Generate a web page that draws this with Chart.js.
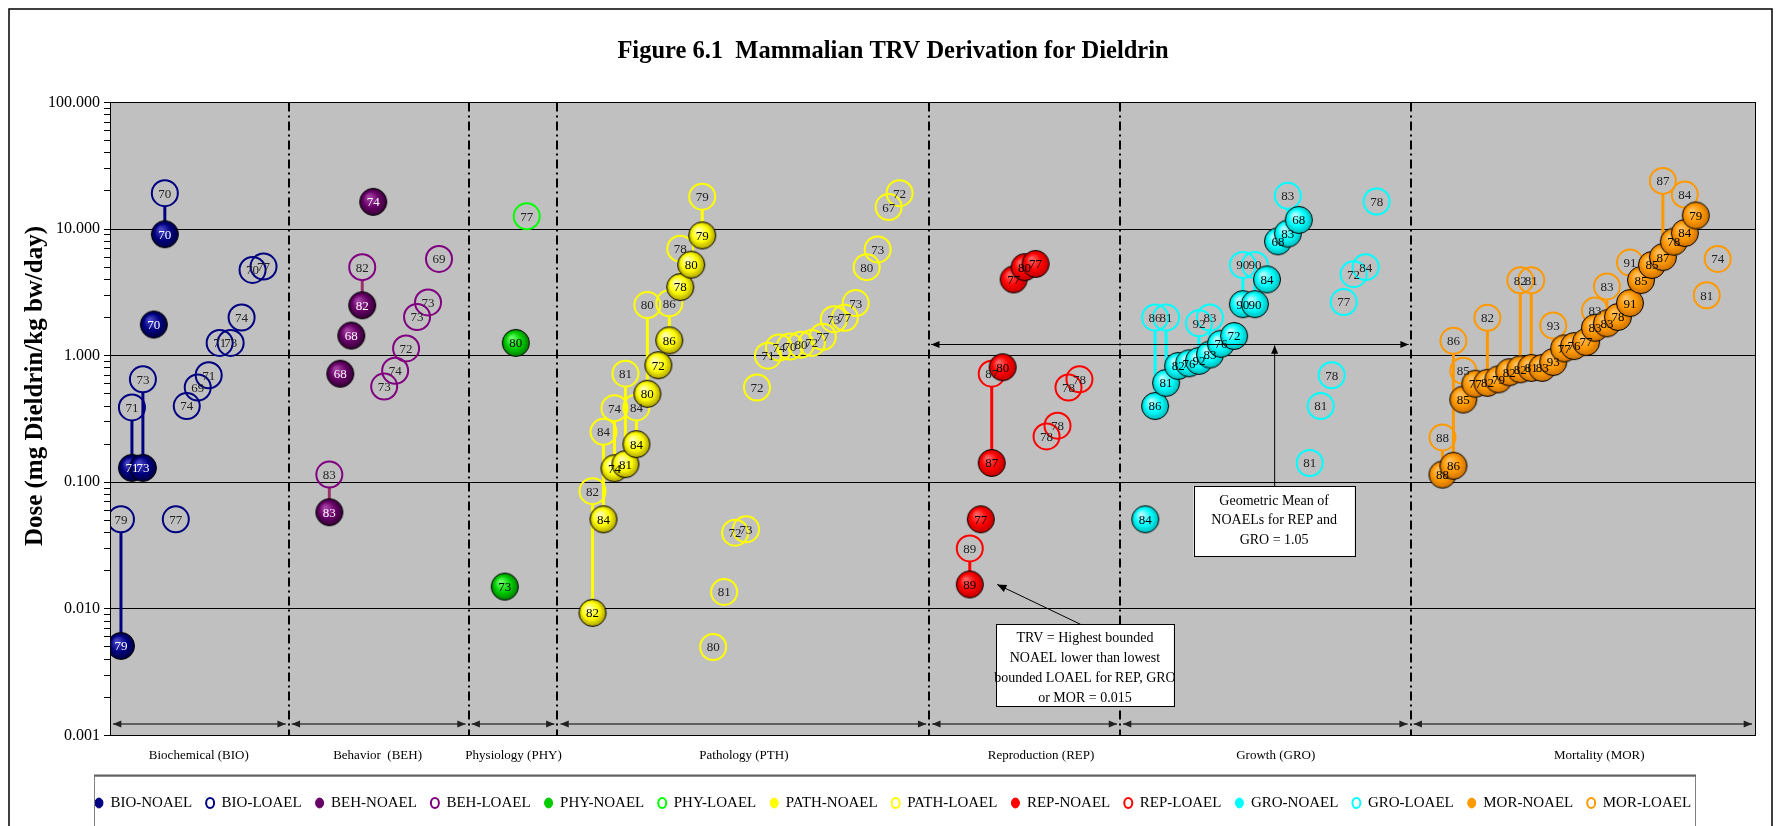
<!DOCTYPE html>
<html>
<head>
<meta charset="utf-8">
<script src="https://cdn.jsdelivr.net/npm/chart.js@4.4.0/dist/chart.umd.min.js"></script>
<style>
  html, body { margin: 0; padding: 0; background: #fff; }
  canvas { display: block; }
</style>
</head>
<body>
<canvas id="chart" width="1781" height="826"></canvas>
<script>
// points are [x position, dose mg/kg bw/day, study label]
const BIO_NOAEL = [[1, 0.0051, '79'], [2, 0.13, '71'], [3, 0.13, '73'], [4, 1.76, '70'], [5, 9.1, '70']];
const BIO_LOAEL = [[1, 0.051, '79'], [2, 0.39, '71'], [3, 0.65, '73'], [5, 19.2, '70'], [6, 0.051, '77'],
  [7, 0.40, '74'], [8, 0.56, '69'], [9, 0.70, '71'], [10, 1.26, '71'], [11, 1.26, '73'], [12, 2.0, '74'],
  [13, 4.75, '70'], [14, 5.05, '77']];

const BEH_NOAEL = [[20, 0.058, '83'], [21, 0.72, '68'], [22, 1.44, '68'], [23, 2.5, '82'], [24, 16.4, '74']];
const BEH_LOAEL = [[20, 0.115, '83'], [23, 5.0, '82'], [25, 0.57, '73'], [26, 0.76, '74'], [27, 1.14, '72'],
  [28, 2.02, '73'], [29, 2.63, '73'], [30, 5.8, '69']];

const PHY_NOAEL = [[36, 0.015, '73'], [37, 1.26, '80']];
const PHY_LOAEL = [[38, 12.6, '77']];

const PTH_NOAEL = [[44, 0.0093, '82'], [45, 0.051, '84'], [46, 0.129, '74'], [47, 0.139, '81'], [48, 0.20, '84'],
  [49, 0.50, '80'], [50, 0.84, '72'], [51, 1.32, '86'], [52, 3.48, '78'], [53, 5.23, '80'], [54, 8.9, '79']];
const PTH_LOAEL = [[44, 0.085, '82'], [45, 0.25, '84'], [46, 0.385, '74'], [47, 0.72, '81'], [48, 0.39, '84'],
  [49, 2.51, '80'], [51, 2.59, '86'], [52, 7.0, '78'], [54, 18, '79'], [55, 0.005, '80'], [56, 0.0136, '81'],
  [57, 0.040, '72'], [58, 0.0425, '73'], [59, 0.56, '72'], [60, 1.0, '71'], [61, 1.16, '74'], [62, 1.18, '70'],
  [63, 1.22, '80'], [64, 1.26, '72'], [65, 1.41, '77'], [66, 1.94, '73'], [67, 1.99, '77'], [68, 2.6, '73'],
  [69, 5.0, '80'], [70, 6.9, '73'], [71, 14.9, '67'], [72, 19.2, '72']];

const REP_NOAEL = [[78.4, 0.0156, '89'], [79.4, 0.051, '77'], [80.4, 0.142, '87'], [81.4, 0.81, '80'],
  [82.4, 4.0, '77'], [83.4, 5.0, '80'], [84.4, 5.3, '77']];
const REP_LOAEL = [[78.4, 0.030, '89'], [80.4, 0.72, '87'], [85.4, 0.23, '78'], [86.4, 0.28, '78'],
  [87.4, 0.56, '78'], [88.4, 0.65, '78']];

const GRO_NOAEL = [[94.4, 0.051, '84'], [95.3, 0.40, '86'], [96.3, 0.61, '81'], [97.4, 0.83, '82'],
  [98.4, 0.87, '76'], [99.3, 0.91, '92'], [100.3, 1.02, '83'], [101.3, 1.24, '76'], [102.5, 1.43, '72'],
  [103.3, 2.55, '90'], [104.4, 2.55, '90'], [105.5, 4.0, '84'], [106.5, 8.0, '68'], [107.4, 9.2, '83'],
  [108.4, 11.8, '68']];
const GRO_LOAEL = [[95.3, 2.0, '86'], [96.3, 2.0, '81'], [99.3, 1.8, '92'], [100.3, 2.0, '83'],
  [103.3, 5.2, '90'], [104.4, 5.2, '90'], [107.4, 18.3, '83'], [109.4, 0.142, '81'], [110.4, 0.40, '81'],
  [111.4, 0.70, '78'], [112.5, 2.65, '77'], [113.4, 4.4, '72'], [114.5, 5.0, '84'], [115.5, 16.5, '78']];

const MOR_NOAEL = [[121.5, 0.115, '88'], [122.5, 0.135, '86'], [123.4, 0.45, '85'], [124.5, 0.60, '77'],
  [125.6, 0.61, '82'], [126.6, 0.65, '79'], [127.6, 0.74, '82'], [128.6, 0.78, '82'], [129.6, 0.80, '81'],
  [130.6, 0.80, '83'], [131.6, 0.89, '93'], [132.6, 1.14, '77'], [133.5, 1.19, '76'], [134.6, 1.28, '77'],
  [135.4, 1.66, '83'], [136.5, 1.80, '83'], [137.5, 2.02, '78'], [138.6, 2.6, '91'], [139.6, 3.95, '85'],
  [140.6, 5.2, '85'], [141.6, 6.0, '87'], [142.6, 7.95, '78'], [143.6, 9.3, '84'], [144.6, 12.8, '79']];
const MOR_LOAEL = [[121.5, 0.226, '88'], [122.5, 1.31, '86'], [123.4, 0.76, '85'], [125.6, 1.99, '82'],
  [128.6, 3.94, '82'], [129.6, 3.94, '81'], [131.6, 1.73, '93'], [135.4, 2.27, '83'], [136.5, 3.52, '83'],
  [138.6, 5.43, '91'], [141.6, 24, '87'], [143.6, 18.7, '84'], [145.6, 3.0, '81'], [146.6, 5.8, '74']];

const seriesNames = ['BIO', 'BEH', 'PHY', 'PATH', 'REP', 'GRO', 'MOR'];
const categoryNames = ['Biochemical (BIO)', 'Behavior  (BEH)', 'Physiology (PHY)', 'Pathology (PTH)',
  'Reproduction (REP)', 'Growth (GRO)', 'Mortality (MOR)'];
const categoryEdges = [0, 16.3, 32.7, 40.8, 74.7, 92.1, 118.6, 150];
const categoryLabelX = [8.1, 24.4, 36.8, 57.8, 84.9, 106.3, 135.8];
const yTickLabels = ['0.001', '0.010', '0.100', '1.000', '10.000', '100.000'];
const yTitle = 'Dose (mg Dieldrin/kg bw/day)';
const geoMeanLine = 1.23;
const trvNote = ['TRV = Highest bounded', 'NOAEL lower than lowest', 'bounded LOAEL for REP, GRO', 'or MOR = 0.015'];
const geoNote = ['Geometric Mean of', 'NOAELs for REP and', 'GRO = 1.05'];

const noaelSets = [BIO_NOAEL, BEH_NOAEL, PHY_NOAEL, PTH_NOAEL, REP_NOAEL, GRO_NOAEL, MOR_NOAEL];
const loaelSets = [BIO_LOAEL, BEH_LOAEL, PHY_LOAEL, PTH_LOAEL, REP_LOAEL, GRO_LOAEL, MOR_LOAEL];

// colours: fill, highlight, rim, open circle, pair line, label text
const looks = [
  ['#000080', '#4444c4', '#00003a', '#000080', '#000080', '#ffffff'],
  ['#660066', '#a440a4', '#300030', '#800080', '#993366', '#ffffff'],
  ['#00cc00', '#66ff66', '#007a00', '#00ff00', '#00ff00', '#000000'],
  ['#ffff00', '#ffffb0', '#a89a00', '#ffff00', '#ffff00', '#000000'],
  ['#ff0000', '#ff6060', '#b80000', '#ff0000', '#ff0000', '#000000'],
  ['#00ffff', '#b0ffff', '#00b4b4', '#00ffff', '#00ffff', '#000000'],
  ['#ff9900', '#ffc060', '#c86e00', '#ff9900', '#ff9900', '#000000']
];

function ball(c, r) {
  const cv = document.createElement('canvas');
  const s = 2 * r + 2;
  cv.width = s; cv.height = s;
  const g = cv.getContext('2d');
  const gr = g.createRadialGradient(r + 1 - r * 0.3, r + 1 - r * 0.35, r * 0.1, r + 1, r + 1, r);
  gr.addColorStop(0, c[1]);
  gr.addColorStop(0.55, c[0]);
  gr.addColorStop(1, c[2]);
  g.fillStyle = gr;
  g.beginPath(); g.arc(r + 1, r + 1, r - 0.5, 0, Math.PI * 2); g.fill();
  g.lineWidth = 1; g.strokeStyle = '#000'; g.stroke();
  return cv;
}

const toPts = arr => arr.map(p => ({x: p[0], y: p[1], lab: p[2]}));
const datasets = [];
seriesNames.forEach((nm, i) => {
  const c = looks[i];
  datasets.push({
    label: nm + '-NOAEL', data: toPts(noaelSets[i]), kind: 'N', grp: i,
    pointStyle: ball(c, 14), pointRadius: 14, backgroundColor: c[0], borderColor: '#000', order: 0
  });
  datasets.push({
    label: nm + '-LOAEL', data: toPts(loaelSets[i]), kind: 'L', grp: i,
    pointStyle: 'circle', pointRadius: 13, borderWidth: 2, backgroundColor: 'rgba(0,0,0,0)',
    borderColor: c[3], order: 1
  });
});

const majors = yTickLabels.map(Number);
const yTicks = [];
for (let d = -3; d < 2; d++) for (let m = 1; m < 10; m++) yTicks.push(+(m * Math.pow(10, d)).toPrecision(3));
yTicks.push(100);

function arrowHead(ctx, x0, y0, x1, y1, size) {
  const a = Math.atan2(y1 - y0, x1 - x0);
  ctx.beginPath();
  ctx.moveTo(x1, y1);
  ctx.lineTo(x1 - size * Math.cos(a - 0.4), y1 - size * Math.sin(a - 0.4));
  ctx.lineTo(x1 - size * Math.cos(a + 0.4), y1 - size * Math.sin(a + 0.4));
  ctx.closePath();
  ctx.fill();
}

const decor = {
  id: 'decor',
  beforeDraw(chart) {
    const {ctx, chartArea: a} = chart;
    ctx.save();
    ctx.fillStyle = '#c0c0c0';
    ctx.fillRect(a.left, a.top, a.right - a.left, a.bottom - a.top);
    ctx.restore();
  },
  beforeDatasetsDraw(chart) {
    const {ctx, chartArea: a, scales: {x, y}} = chart;
    ctx.save();
    // category dividers
    ctx.strokeStyle = '#000';
    ctx.lineWidth = 2;
    ctx.setLineDash([9, 4, 2, 4]);
    for (let i = 1; i < categoryEdges.length - 1; i++) {
      const px = Math.round(x.getPixelForValue(categoryEdges[i]));
      ctx.beginPath(); ctx.moveTo(px, a.top); ctx.lineTo(px, a.bottom); ctx.stroke();
    }
    ctx.setLineDash([]);
    // category span arrows
    const ay = y.getPixelForValue(0.00123);
    ctx.strokeStyle = '#404040'; ctx.fillStyle = '#202020'; ctx.lineWidth = 1.5;
    for (let i = 0; i < categoryEdges.length - 1; i++) {
      const x0 = x.getPixelForValue(categoryEdges[i]) + 3, x1 = x.getPixelForValue(categoryEdges[i + 1]) - 3;
      ctx.beginPath(); ctx.moveTo(x0, ay); ctx.lineTo(x1, ay); ctx.stroke();
      arrowHead(ctx, x1, ay, x0, ay, 9);
      arrowHead(ctx, x0, ay, x1, ay, 9);
    }
    // LOAEL to NOAEL bound lines
    ctx.lineWidth = 3;
    datasets.forEach((ds, di) => {
      if (ds.kind !== 'N') return;
      const lo = datasets[di + 1];
      ds.data.forEach(p => {
        const q = lo.data.find(o => o.x === p.x && o.lab === p.lab);
        if (!q) return;
        const px = x.getPixelForValue(p.x);
        const yTop = y.getPixelForValue(q.y) + 13, yBot = y.getPixelForValue(p.y) - 13;
        if (yBot <= yTop) return;
        ctx.strokeStyle = looks[ds.grp][4];
        ctx.beginPath(); ctx.moveTo(px, yTop); ctx.lineTo(px, yBot); ctx.stroke();
      });
    });
    ctx.restore();
  },
  afterDatasetsDraw(chart) {
    const {ctx, chartArea: a, scales: {x, y}} = chart;
    ctx.save();
    ctx.font = '13px "Liberation Serif"';
    ctx.textAlign = 'center';
    ctx.textBaseline = 'middle';
    ['L', 'N'].forEach(k => {
      chart.data.datasets.forEach((ds, di) => {
        if (ds.kind !== k) return;
        const meta = chart.getDatasetMeta(di);
        ctx.fillStyle = k === 'N' ? looks[ds.grp][5] : '#222';
        meta.data.forEach((el, j) => ctx.fillText(ds.data[j].lab, el.x, el.y + 1));
      });
    });
    // geometric mean line with double arrow
    ctx.strokeStyle = '#000'; ctx.fillStyle = '#000'; ctx.lineWidth = 1;
    const gy = Math.round(y.getPixelForValue(geoMeanLine)) + 0.5;
    const gx0 = x.getPixelForValue(categoryEdges[4]) + 2, gx1 = x.getPixelForValue(categoryEdges[6]) - 2;
    ctx.beginPath(); ctx.moveTo(gx0, gy); ctx.lineTo(gx1, gy); ctx.stroke();
    arrowHead(ctx, gx1, gy, gx0, gy, 9);
    arrowHead(ctx, gx0, gy, gx1, gy, 9);
    // geometric mean note
    const bx0 = x.getPixelForValue(98.8), bx1 = x.getPixelForValue(113.5);
    const by0 = y.getPixelForValue(0.0935), by1 = y.getPixelForValue(0.026);
    const cx = x.getPixelForValue(106.2);
    ctx.beginPath(); ctx.moveTo(cx, by0); ctx.lineTo(cx, gy + 1); ctx.stroke();
    arrowHead(ctx, cx, by0, cx, gy + 1, 9);
    ctx.fillStyle = '#fff';
    ctx.fillRect(bx0, by0, bx1 - bx0, by1 - by0);
    ctx.strokeRect(Math.round(bx0) + 0.5, Math.round(by0) + 0.5, Math.round(bx1 - bx0), Math.round(by1 - by0));
    ctx.fillStyle = '#000';
    ctx.font = '14px "Liberation Serif"';
    geoNote.forEach((t, i) => ctx.fillText(t, (bx0 + bx1) / 2, by0 + 15 + i * 19.5));
    // TRV note
    const tx0 = x.getPixelForValue(80.8), tx1 = x.getPixelForValue(97.0);
    const ty0 = y.getPixelForValue(0.00755), ty1 = y.getPixelForValue(0.00171);
    const ax0 = x.getPixelForValue(88.5), ax1 = x.getPixelForValue(80.9), ay1 = y.getPixelForValue(0.0156);
    ctx.beginPath(); ctx.moveTo(ax0, ty0); ctx.lineTo(ax1, ay1); ctx.stroke();
    arrowHead(ctx, ax0, ty0, ax1, ay1, 10);
    ctx.fillStyle = '#fff';
    ctx.fillRect(tx0, ty0, tx1 - tx0, ty1 - ty0);
    ctx.strokeRect(Math.round(tx0) + 0.5, Math.round(ty0) + 0.5, Math.round(tx1 - tx0), Math.round(ty1 - ty0));
    ctx.fillStyle = '#000';
    trvNote.forEach((t, i) => ctx.fillText(t, (tx0 + tx1) / 2, ty0 + 14 + i * 20));
    // plot frame
    ctx.lineWidth = 1;
    ctx.strokeRect(Math.round(a.left) + 0.5, Math.round(a.top) + 0.5, Math.round(a.right - a.left), Math.round(a.bottom - a.top));
    ctx.restore();
  },
  afterDraw(chart) {
    const {ctx, chartArea: a, scales: {x}} = chart;
    ctx.save();
    ctx.fillStyle = '#000';
    ctx.font = '13px "Liberation Serif"';
    ctx.textAlign = 'center';
    ctx.textBaseline = 'middle';
    categoryNames.forEach((t, i) => ctx.fillText(t, x.getPixelForValue(categoryLabelX[i]), a.bottom + 20));
    // y axis title, sitting a little above the plot middle as in the source figure
    ctx.save();
    ctx.translate(36, a.top + (a.bottom - a.top) * 0.448);
    ctx.rotate(-Math.PI / 2);
    ctx.font = 'bold 25px "Liberation Serif"';
    ctx.fillText(yTitle, 0, 0);
    ctx.restore();
    // legend frame
    const lg = chart.legend;
    ctx.strokeStyle = '#808080'; ctx.lineWidth = 1;
    ctx.strokeRect(94.5, lg.top + 1.5, 1601, 80);
    ctx.strokeStyle = '#606060'; ctx.lineWidth = 2;
    ctx.beginPath(); ctx.moveTo(94, lg.top + 1); ctx.lineTo(1696, lg.top + 1); ctx.stroke();
    // outer frame
    ctx.strokeStyle = '#000'; ctx.lineWidth = 1.5;
    ctx.strokeRect(9, 9, 1763, 900);
    ctx.restore();
  }
};

new Chart(document.getElementById('chart'), {
  type: 'scatter',
  data: {datasets},
  options: {
    responsive: false,
    animation: false,
    devicePixelRatio: 1,
    layout: {padding: {left: 9, right: 4, top: 9, bottom: 5.5}},
    plugins: {
      title: {
        display: true,
        text: 'Figure 6.1  Mammalian TRV Derivation for Dieldrin',
        color: '#000',
        font: {family: 'Liberation Serif', size: 24.5, weight: 'bold'},
        padding: {top: 28, bottom: 36}
      },
      legend: {
        position: 'bottom',
        title: {display: true, text: '', font: {size: 1}, padding: {top: 5.8, bottom: 0}},
        labels: {
          color: '#000',
          font: {family: 'Liberation Serif', size: 15},
          usePointStyle: true,
          boxHeight: 7,
          pointStyleWidth: 8,
          padding: 14,
          generateLabels(chart) {
            return chart.data.datasets.map((ds, i) => ({
              text: ds.label, datasetIndex: i, pointStyle: 'circle', hidden: false, fontColor: '#000',
              fillStyle: ds.kind === 'N' ? ds.backgroundColor : 'rgba(0,0,0,0)',
              strokeStyle: ds.kind === 'N' ? ds.backgroundColor : ds.borderColor,
              lineWidth: ds.kind === 'N' ? 1 : 2
            }));
          }
        }
      },
      tooltip: {enabled: false}
    },
    scales: {
      x: {
        type: 'linear', min: 0, max: 150,
        afterFit(s) { s.height = 39; },
        ticks: {display: false},
        grid: {display: false},
        border: {display: false}
      },
      y: {
        type: 'logarithmic', min: 0.001, max: 100,
        afterFit(s) { s.width = 101; },
        afterBuildTicks(s) { s.ticks = yTicks.map(v => ({value: v, major: majors.includes(v)})); },
        ticks: {
          autoSkip: false, padding: 4, color: '#000',
          font: {family: 'Liberation Serif', size: 16},
          callback(v) { const k = majors.indexOf(v); return k >= 0 ? yTickLabels[k] : ''; }
        },
        grid: {
          color: c => (c.tick && c.tick.major ? '#000' : 'rgba(0,0,0,0)'),
          tickColor: '#000', tickLength: 6, lineWidth: 1
        },
        border: {display: true, color: '#000'}
      },
      yPad: {
        type: 'linear', position: 'right',
        afterFit(s) { s.width = 22; },
        ticks: {display: false},
        grid: {display: false},
        border: {display: false}
      }
    }
  },
  plugins: [decor]
});
</script>
</body>
</html>
